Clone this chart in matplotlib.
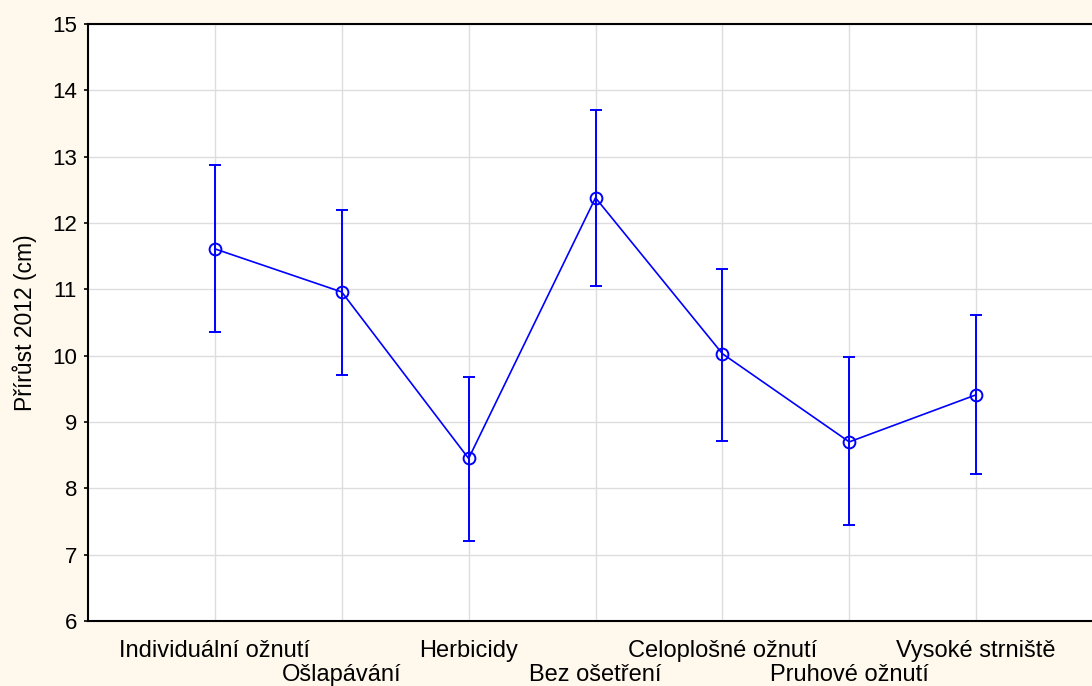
import matplotlib
matplotlib.use("Agg")
import matplotlib.pyplot as plt
import numpy as np

# data
categories = ["Individuální ožnutí", "Ošlapávání", "Herbicidy", "Bez ošetření",
              "Celoplošné ožnutí", "Pruhové ožnutí", "Vysoké strniště"]
means = [11.61, 10.96, 8.45, 12.38, 10.03, 8.70, 9.41]
upper = [12.88, 12.20, 9.68, 13.70, 11.31, 9.98, 10.62]
lower = [10.36, 9.71, 7.20, 11.05, 8.72, 7.44, 8.22]

plt.rcParams['font.family'] = ['Liberation Sans', 'DejaVu Sans']

fig = plt.figure(figsize=(10.92, 6.86), dpi=100, facecolor='#fff8ec')
ax = fig.add_axes([88 / 1092, 65 / 686, 1015 / 1092, 597 / 686])
ax.set_facecolor('white')

x = np.arange(1, len(categories) + 1)
m = np.array(means)
yerr = [m - np.array(lower), np.array(upper) - m]
ax.errorbar(x, m, yerr=yerr, color='#0000ff', lw=1.2, marker='o', ms=8.5,
            mfc='none', mec='#0000ff', mew=1.4, capsize=4.5, capthick=1.4,
            elinewidth=1.4)

ax.set_xlim(0, 8)
ax.set_ylim(6, 15)
ax.set_yticks(range(6, 16))
ax.set_xticks(x)
ax.set_xticklabels(categories)
for i, t in enumerate(ax.get_xticklabels()):
    if i % 2 == 1:
        t.set_y(-0.039)
ax.grid(True, color='#dddddd', lw=1)
ax.set_axisbelow(True)
ax.tick_params(axis='y', labelsize=16, length=3, width=1.2, direction='out', pad=5)
ax.tick_params(axis='x', labelsize=17, length=0, pad=14)
for s in ax.spines.values():
    s.set_linewidth(1.5)
ax.spines['right'].set_visible(False)
ax.set_ylabel("Přírůst 2012 (cm)", fontsize=16.5, labelpad=11)

fig.savefig("out.png", dpi=100, facecolor=fig.get_facecolor())
